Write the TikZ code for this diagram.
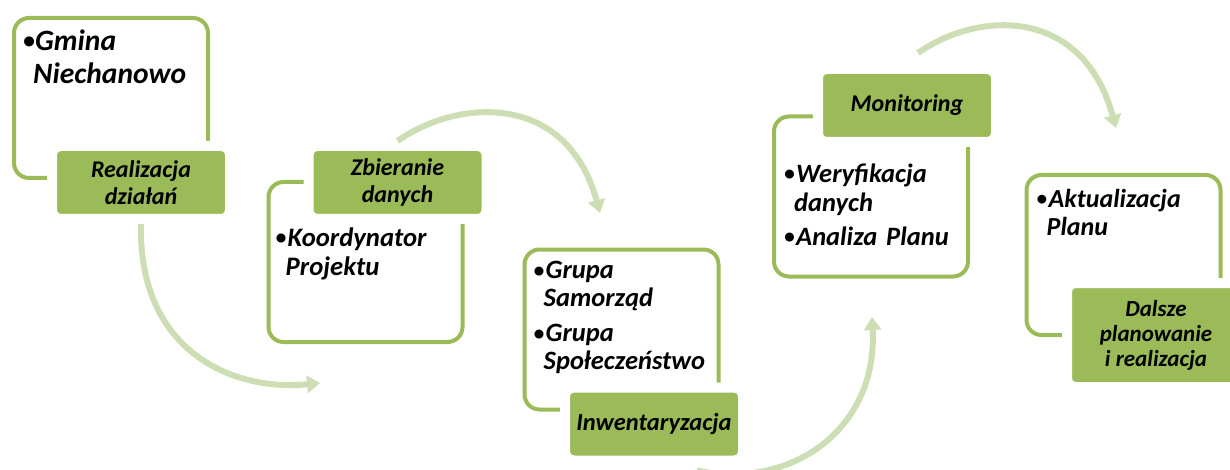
\documentclass[tikz,border=0pt]{standalone}
\usepackage{fontspec}
\setmainfont{Carlito}
\usepackage{tikz}
\usetikzlibrary{arrows.meta,positioning}
\definecolor{PlanGreen}{HTML}{9BBB59}
\definecolor{PlanSage}{HTML}{CDDDB4}
\newcommand{\pkt}[1]{\par\hangindent=10pt\hangafter=1\noindent\makebox[12pt][l]{\raisebox{0.05em}{\scalebox{0.8}{\textbullet}}}#1\par}

\begin{document}
\begin{tikzpicture}[x=1pt, y=1pt,
  box/.style={draw=PlanGreen, line width=4pt, rounded corners=15pt, fill=white, minimum width=194pt, minimum height=160pt, inner sep=0pt},
  lab/.style={draw=white, line width=10pt, fill=PlanGreen, rounded corners=9pt, minimum width=178pt, minimum height=73pt, align=center, inner sep=0pt, font=\bfseries\itshape\fontsize{24}{27}\selectfont},
  items/.style={text width=185pt, align=left, inner sep=0pt, font=\bfseries\itshape\fontsize{26.5}{28}\selectfont},
  flow/.style={-{Triangle[width=17pt,length=13pt]}, line width=6pt, draw=PlanSage}
]
  \useasboundingbox (0,0) rectangle (1230,-470);

  \node[box] (box1) at (111,-98) {};
  \node[box] (box2) at (365.5,-262) {};
  \node[box] (box3) at (621.5,-329.5) {};
  \node[box] (box4) at (871,-196.5) {};
  \node[box] (box5) at (1123.5,-255) {};

  \node[items, font=\bfseries\itshape\fontsize{29.5}{33}\selectfont, below right=1pt and 11pt of box1.north west] (gmina) {\pkt{Gmina\newline Niechanowo}};
  \node[items, font=\bfseries\itshape\fontsize{26.7}{29}\selectfont, below right=37pt and 9pt of box2.north west] (koordynator) {\pkt{Koordynator\newline Projektu}};
  \node[items, below right=3pt and 11pt of box3.north west] (grupy) {\pkt{Grupa\newline Samorząd}\vspace{7pt}\pkt{Grupa\newline Społeczeństwo}};
  \node[items, font=\bfseries\itshape\fontsize{26.5}{29}\selectfont, below right=38.5pt and 12pt of box4.north west] (weryfikacja) {\pkt{Weryfikacja\newline danych}\vspace{5pt}\pkt{Analiza Planu}};
  \node[items, font=\bfseries\itshape\fontsize{26}{28}\selectfont, below right=6pt and 12pt of box5.north west] (aktualizacja) {\pkt{Aktualizacja\newline Planu}};

  \node[lab] (realizacja) at (141,-182.5) {Realizacja\\działań};
  \node[lab] (zbieranie) at (397.5,-182.5) {Zbieranie\\danych};
  \node[lab, font=\bfseries\itshape\fontsize{24.5}{28}\selectfont] (inwentaryzacja) at (654,-424) {Inwentaryzacja};
  \node[lab] (monitoring) at (907,-105.5) {Monitoring};
  \node[lab, minimum height=104pt, font=\bfseries\itshape\fontsize{23}{25}\selectfont] (dalsze) at (1156,-335) {Dalsze\\planowanie\\i realizacja};

  \coordinate (tip1) at (320,-383);
  \coordinate (tip2) at (600,-213);
  \coordinate (tip3) at (872,-317);
  \coordinate (tip4) at (1116,-128);

  \draw[flow] (realizacja.south) .. controls +(-3,-125) and +(-90,-9) .. (tip1);
  \draw[flow] (zbieranie.north) .. controls +(61,43) and +(-33,121) .. (tip2);
  \draw[flow] ([xshift=43pt,yshift=-5pt]inwentaryzacja.south) .. controls +(93,-20) and +(6,-113) .. (tip3);
  \draw[flow] ([xshift=11pt,yshift=11pt]monitoring.north) .. controls +(61,43) and +(-33,121) .. (tip4);
\end{tikzpicture}
\end{document}
